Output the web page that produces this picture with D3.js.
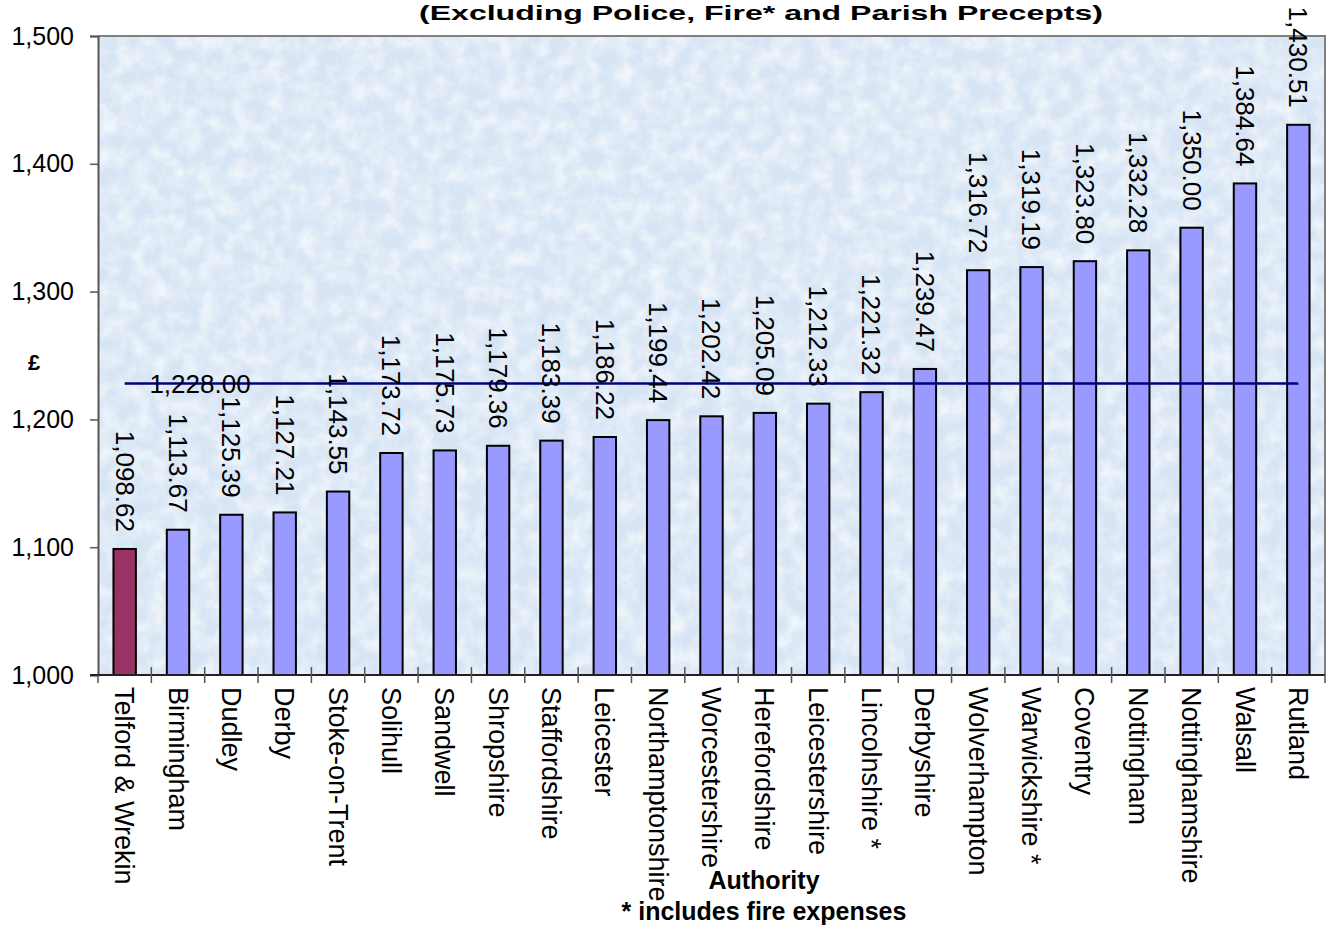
<!DOCTYPE html>
<html>
<head>
<meta charset="utf-8">
<script src="https://cdn.jsdelivr.net/npm/d3@7"></script>
<style>
  html, body { margin: 0; padding: 0; background: #ffffff; }
  svg { display: block; font-family: Arial, "Liberation Sans", sans-serif; }
</style>
</head>
<body>
<svg id="chart" width="1335" height="931"></svg>
<script>
const categories = ["Telford & Wrekin","Birmingham","Dudley","Derby","Stoke-on-Trent","Solihull","Sandwell","Shropshire","Staffordshire","Leicester","Northamptonshire","Worcestershire","Herefordshire","Leicestershire","Lincolnshire *","Derbyshire","Wolverhampton","Warwickshire *","Coventry","Nottingham","Nottinghamshire","Walsall","Rutland"];
const values = [1098.62,1113.67,1125.39,1127.21,1143.55,1173.72,1175.73,1179.36,1183.39,1186.22,1199.44,1202.42,1205.09,1212.33,1221.32,1239.47,1316.72,1319.19,1323.80,1332.28,1350.00,1384.64,1430.51];
const averageValue = 1228.00;
const yTicks = [1000,1100,1200,1300,1400,1500];
const yDomain = [1000,1500];
const highlightCategory = "Telford & Wrekin";
const titleText = "(Excluding Police, Fire* and Parish Precepts)";
const yAxisTitle = "£";
const xAxisTitle = "Authority";
const footnote = "* includes fire expenses";

const svg = d3.select("#chart");
const plot = {left: 98, right: 1325, top: 36, bottom: 675};
const fmt = d3.format(",.2f");

const x = d3.scaleBand().domain(categories).range([plot.left, plot.right]).paddingInner(0.58).paddingOuter(0.29);
const y = d3.scaleLinear().domain(yDomain).range([plot.bottom, plot.top]);
const step = x.step();

// background texture
const defs = svg.append("defs");
const f = defs.append("filter").attr("id","tex").attr("x",0).attr("y",0).attr("width",1).attr("height",1);
f.append("feTurbulence").attr("type","fractalNoise").attr("baseFrequency","0.06").attr("numOctaves",4).attr("seed",7).attr("result","n");
f.append("feColorMatrix").attr("type","matrix").attr("in","n")
  .attr("values","0 0 0 0 1  0 0 0 0 1  0 0 0 0 1  0 0 0 1.6 -0.5");
svg.append("rect").attr("x",plot.left).attr("y",plot.top).attr("width",plot.right-plot.left).attr("height",plot.bottom-plot.top)
  .attr("fill","#d6e4f4");
svg.append("rect").attr("x",plot.left).attr("y",plot.top).attr("width",plot.right-plot.left).attr("height",plot.bottom-plot.top)
  .attr("fill","#fff").attr("filter","url(#tex)").attr("opacity",0.75);

// border top/right
svg.append("path").attr("d",`M${plot.left},${plot.top}H${plot.right}V${plot.bottom}`)
  .attr("fill","none").attr("stroke","#808080").attr("stroke-width",2);

// bars
svg.append("g").selectAll("rect").data(categories).join("rect")
  .attr("x", d => x(d))
  .attr("y", (d,i) => y(values[i]))
  .attr("width", x.bandwidth())
  .attr("height", (d,i) => y(yDomain[0]) - y(values[i]))
  .attr("fill", d => d === highlightCategory ? "#993366" : "#9999ff")
  .attr("stroke", "#000").attr("stroke-width", 2);

// average line
svg.append("line")
  .attr("x1", x(categories[0]) + x.bandwidth()/2)
  .attr("x2", x(categories[categories.length-1]) + x.bandwidth()/2)
  .attr("y1", y(averageValue)).attr("y2", y(averageValue))
  .attr("stroke","#000080").attr("stroke-width",2.5);

// y axis
const yAxis = d3.axisLeft(y).tickValues(yTicks).tickFormat(d3.format(",")).tickSize(8).tickPadding(16);
const gy = svg.append("g").attr("transform",`translate(${plot.left},0)`).call(yAxis);
gy.select(".domain").attr("stroke","#555").attr("stroke-width",2);
gy.selectAll(".tick line").attr("stroke","#555").attr("stroke-width",1.5);
gy.selectAll(".tick text").attr("font-size",25).attr("fill","#000").attr("font-family","Arial, 'Liberation Sans', sans-serif");

// x axis baseline + ticks at slot boundaries
svg.append("line").attr("x1",plot.left-8).attr("x2",plot.right).attr("y1",plot.bottom).attr("y2",plot.bottom)
  .attr("stroke","#222").attr("stroke-width",2);
const bounds = d3.range(categories.length + 1).map(i => plot.left + i*step);
svg.append("g").selectAll("line").data(bounds).join("line")
  .attr("x1",d=>d).attr("x2",d=>d)
  .attr("y1",(d,i)=> (i===0 || i===categories.length) ? plot.bottom : plot.bottom-8)
  .attr("y2",plot.bottom+8)
  .attr("stroke","#555").attr("stroke-width",1.5);

// category labels
svg.append("g").selectAll("text").data(categories).join("text")
  .attr("transform", d => `translate(${x(d)+x.bandwidth()/2},${plot.bottom+12}) rotate(90)`)
  .attr("dy","0.35em").attr("text-anchor","start")
  .attr("font-size",27).attr("fill","#000")
  .text(d=>d);

// value labels
svg.append("g").selectAll("text").data(categories).join("text")
  .attr("transform", (d,i) => `translate(${x(d)+x.bandwidth()/2},${y(values[i])-17}) rotate(90)`)
  .attr("dy","0.35em").attr("text-anchor","end")
  .attr("font-size",26).attr("fill","#000")
  .text((d,i)=>fmt(values[i]));

// average label
svg.append("text").attr("x",200).attr("y",y(averageValue)+9)
  .attr("text-anchor","middle").attr("font-size",26).attr("fill","#000")
  .text(fmt(averageValue));

// title
svg.append("text").attr("x",761).attr("y",20).attr("text-anchor","middle")
  .attr("font-size",21).attr("font-weight","bold")
  .attr("textLength",684).attr("lengthAdjust","spacingAndGlyphs")
  .text(titleText);

// y axis title
svg.append("text").attr("x",34).attr("y",370).attr("text-anchor","middle")
  .attr("font-size",22).attr("font-weight","bold").text(yAxisTitle);

// x axis title + footnote
svg.append("text").attr("x",764).attr("y",889).attr("text-anchor","middle")
  .attr("font-size",25).attr("font-weight","bold").text(xAxisTitle);
svg.append("text").attr("x",764).attr("y",920).attr("text-anchor","middle")
  .attr("font-size",25).attr("font-weight","bold").text(footnote);
</script>
</body>
</html>
